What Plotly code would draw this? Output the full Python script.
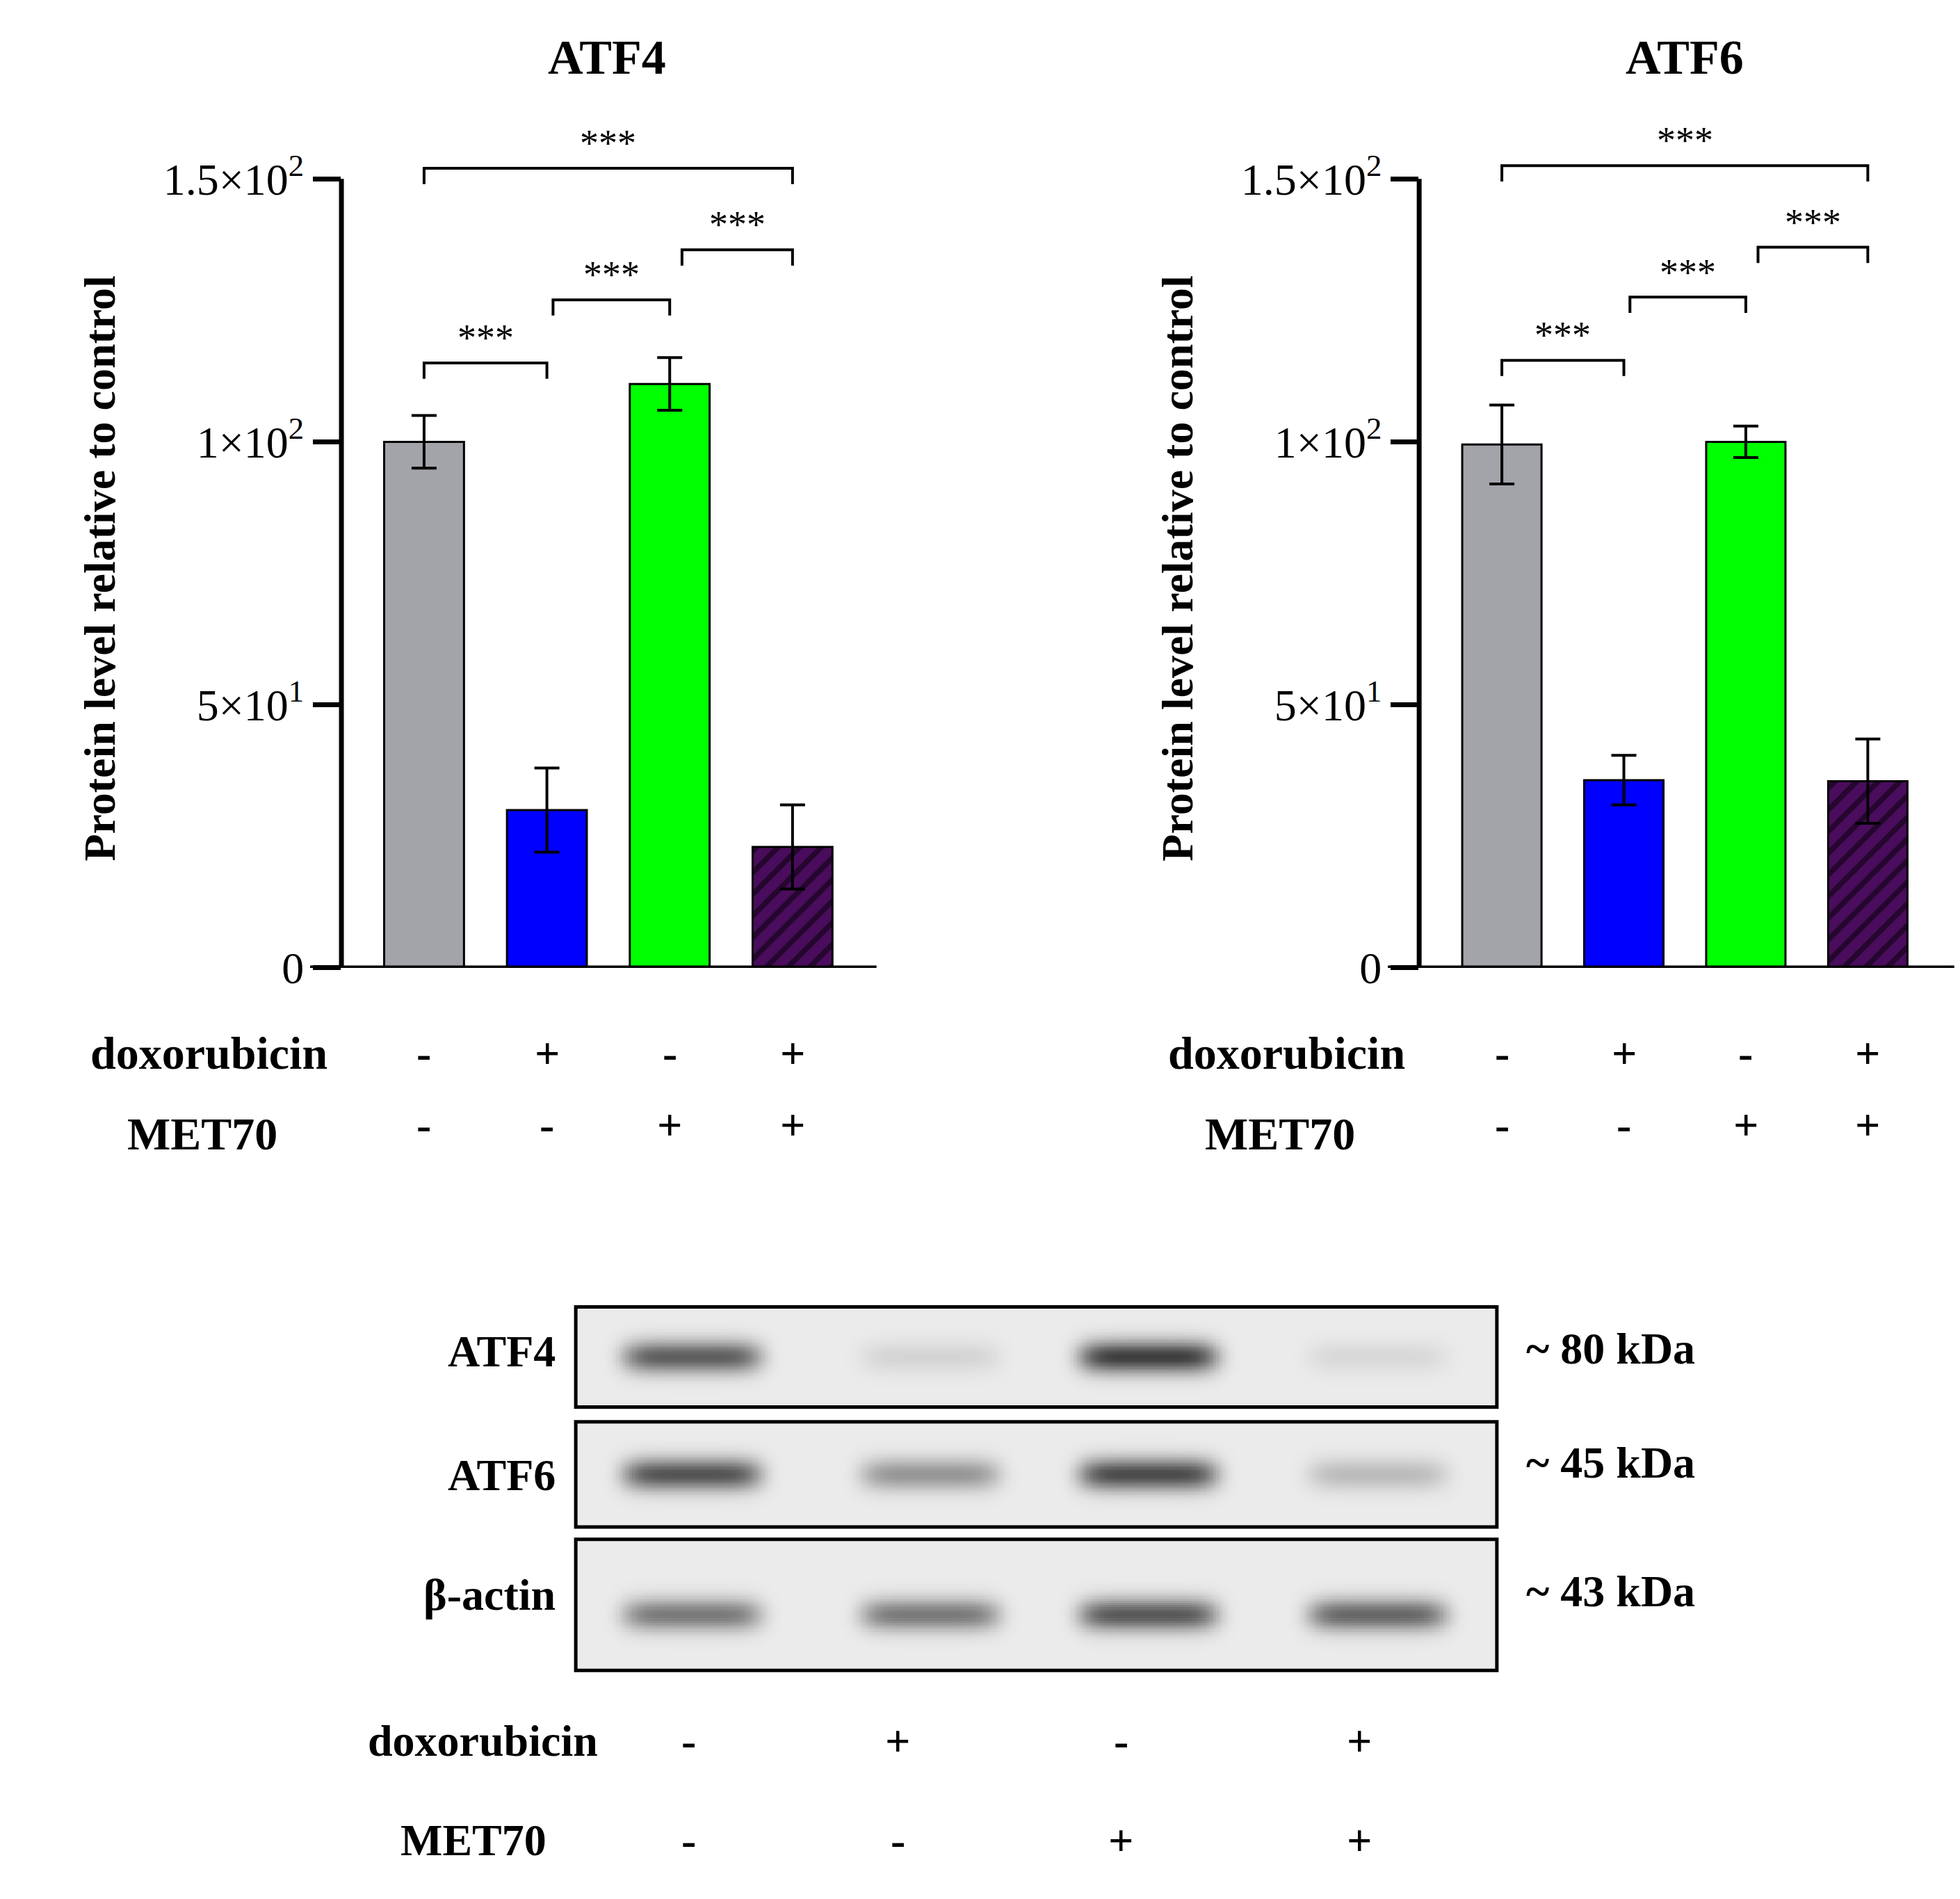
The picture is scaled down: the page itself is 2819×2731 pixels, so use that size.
import numpy as np
import plotly.graph_objects as go

# ---- data
lanes = [1, 2, 3, 4]
atf4_vals = [100, 30, 111, 23]
atf4_err = [5, 8, 5, 8]
atf6_vals = [99.5, 35.7, 100, 35.5]
atf6_err = [7.5, 4.7, 3, 8]
bar_colors = ["#a3a3aa", "#0000ff", "#00ff00", "#4a0c5c"]
dox_signs = ["-", "+", "-", "+"]
met_signs = ["-", "-", "+", "+"]
# brackets: (from lane, to lane, height)
atf4_brackets = [(1, 2, 115), (2.05, 3, 127), (3.1, 4, 136.5), (1, 4, 152)]
atf6_brackets = [(1, 2, 115.5), (2.05, 3, 127.5), (3.1, 4, 137), (1, 4, 152.5)]
tick_vals = [0, 50, 100, 150]
tick_text = ["0", "5×10<sup>1</sup>", "1×10<sup>2</sup>", "1.5×10<sup>2</sup>"]
# blot band intensities per lane
blot_rows = ["ATF4", "ATF6", "β-actin"]
blot_kda = ["~ 80 kDa", "~ 45 kDa", "~ 43 kDa"]
blot_int = [[0.75, 0.12, 0.92, 0.1], [0.8, 0.45, 0.85, 0.25], [0.6, 0.6, 0.78, 0.7]]

W, H = 1564, 1515  # design coords, scaled to 2819x2731
FONT = "Liberation Serif"
YMAX = 162


def px(x):
    return x / W


def py(y):
    return 1 - y / H


fig = go.Figure()
shapes, annos = [], []


def text(x, y, s, size=62, xanchor="center", xref="paper", yref="paper", angle=0):
    annos.append(dict(x=x, y=y, xref=xref, yref=yref, text=s, showarrow=False,
                      xanchor=xanchor, yanchor="middle", textangle=angle,
                      font=dict(family=FONT, size=size, color="black")))


def panel(n, xdom, xr, vals, errs, brackets, title, tx, lab_x, ext_x):
    xa = "x" if n == 1 else "x%d" % n
    ya = "y" if n == 1 else "y%d" % n
    for i in range(4):
        fig.add_trace(go.Bar(
            x=[lanes[i]], y=[vals[i]], width=0.65, xaxis=xa, yaxis=ya,
            marker=dict(color=bar_colors[i], line=dict(color="black", width=3),
                        pattern=dict(shape="/" if i == 3 else "", fgcolor="black",
                                     size=22, solidity=0.35)),
            error_y=dict(type="data", array=[errs[i]], color="black",
                         thickness=4, width=18),
            showlegend=False))
    for a, b, h in brackets:
        shapes.append(dict(type="path", xref=xa, yref=ya,
                           path="M %s %s L %s %s L %s %s L %s %s" % (a, h - 3, a, h, b, h, b, h - 3),
                           line=dict(color="black", width=4)))
        annos.append(dict(x=(a + b) / 2, y=h + 0.5, xref=xa, yref=ya, text="***", showarrow=False,
                          yanchor="bottom", font=dict(family=FONT, size=54, color="black")))
    # axis lines
    shapes.append(dict(type="line", xref="paper", yref=ya, x0=px(ext_x), x1=xdom[1], y0=0, y1=0,
                       line=dict(color="black", width=7)))
    shapes.append(dict(type="line", xref="paper", yref=ya, x0=xdom[0], x1=xdom[0], y0=0, y1=150,
                       line=dict(color="black", width=7)))
    text(px(tx), py(42), "<b>%s</b>" % title, size=70)
    text(px(lab_x), py(455), "<b>Protein level relative to control</b>", size=64, angle=-90)
    for i in range(4):
        text(lanes[i], py(847), "<b>%s</b>" % dox_signs[i], size=64, xref=xa)
        text(lanes[i], py(905), "<b>%s</b>" % met_signs[i], size=64, xref=xa)
    axx = dict(domain=xdom, range=xr, showline=False, showticklabels=False, ticks="",
               showgrid=False, zeroline=False, anchor=ya)
    axy = dict(domain=[py(778), py(778 - YMAX * 4.253)], range=[0, YMAX], showline=False,
               tickvals=tick_vals, ticktext=tick_text, ticks="outside",
               ticklen=40, tickwidth=7, tickcolor="black", showgrid=False, zeroline=False,
               anchor=xa, tickfont=dict(family=FONT, size=64, color="black"))
    return axx, axy


x1, y1 = panel(1, [px(268), px(695)], [0.327, 4.684], atf4_vals, atf4_err, atf4_brackets,
               "ATF4", 480, 75, 243)
x2, y2 = panel(2, [px(1128), px(1555)], [0.322, 4.709], atf6_vals, atf6_err, atf6_brackets,
               "ATF6", 1340, 935, 1103)

for lab, yy, xe in [("doxorubicin", 847, 258), ("MET70", 912, 218)]:
    for off in (0, 860):
        text(px(xe + off), py(yy), "<b>%s</b>" % lab, size=66, xanchor="right")

# ---- western blot strips
boxes = [(1052, 1133), (1145, 1230), (1240, 1346)]
label_y = [1088, 1188, 1285]
kda_y = [1086, 1178, 1282]
blot_lane_x = [548, 738, 912, 1095]
layout_axes = {}
xs = np.linspace(455, 1190, 400)
for r in range(3):
    t, b = boxes[r]
    ys = np.linspace(t, b, 60)
    yc = (t + b) / 2 + (8 if r == 2 else 0)
    z = np.zeros((len(ys), len(xs)))
    for li, cx in enumerate(blot_lane_x):
        prof = np.exp(-((xs - cx) / 55) ** 6)
        vprof = np.exp(-((ys - yc) / 13) ** 2)
        z += blot_int[r][li] * np.outer(vprof, prof)
    n = 3 + r
    fig.add_trace(go.Heatmap(z=z, x=xs, y=ys, xaxis="x%d" % n, yaxis="y%d" % n, zmin=0, zmax=1,
                             colorscale=[[0, "#ebebeb"], [1, "#2e2e2e"]], showscale=False,
                             hoverinfo="skip"))
    layout_axes["xaxis%d" % n] = dict(domain=[px(455), px(1190)], range=[455, 1190], visible=False,
                                       anchor="y%d" % n)
    layout_axes["yaxis%d" % n] = dict(domain=[py(b), py(t)], range=[b, t], visible=False,
                                       anchor="x%d" % n)
    shapes.append(dict(type="rect", xref="paper", yref="paper", x0=px(455), x1=px(1190),
                       y0=py(b), y1=py(t), line=dict(color="black", width=5)))
    text(px(440), py(label_y[r]), "<b>%s</b>" % blot_rows[r], size=64, xanchor="right")
    text(px(1212), py(kda_y[r]), "<b>%s</b>" % blot_kda[r], size=64, xanchor="left")

bottom_lane_x = [545, 712, 890, 1080]
for lab, yy, xe, signs in [("doxorubicin", 1403, 474, dox_signs), ("MET70", 1483, 433, met_signs)]:
    text(px(xe), py(yy), "<b>%s</b>" % lab, size=64, xanchor="right")
    for i in range(4):
        text(px(bottom_lane_x[i]), py(yy), "<b>%s</b>" % signs[i], size=64)

fig.update_layout(width=2819, height=2731, margin=dict(l=0, r=0, t=0, b=0),
                  paper_bgcolor="white", plot_bgcolor="rgba(0,0,0,0)",
                  xaxis=x1, yaxis=y1, xaxis2=x2, yaxis2=y2, shapes=shapes, annotations=annos,
                  **layout_axes)
fig.write_html("out.html")
